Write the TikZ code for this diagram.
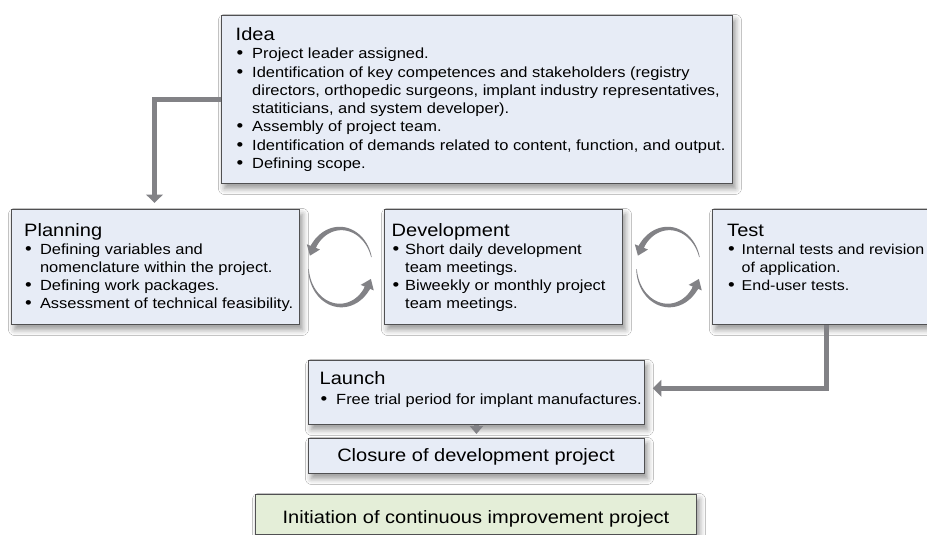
\documentclass[tikz,border=0pt]{standalone}
\usepackage{fontspec}
\setmainfont{Liberation Sans}[FakeStretch=1.12]
\usetikzlibrary{arrows.meta,shadows.blur}

\definecolor{boxblue}{HTML}{E7ECF6}
\definecolor{boxgreen}{HTML}{E4EED8}
\definecolor{edge}{HTML}{505052}
\definecolor{flow}{HTML}{828286}

% bullet lists: \hangw is the indent of the bullet text
\newlength\hangw
\newcommand\hd[1]{{\fontsize{17.9}{18}\selectfont #1}}
\newcommand\bul{\par\noindent\hangindent=\hangw\hangafter=1\relax
  \makebox[\hangw][l]{\hspace{1pt}{\fontsize{17}{18}\selectfont•}}}
\newcommand\blk[4][14.7]{\parbox[t]{560pt}{\fontsize{#1}{#3}\selectfont
  \setlength\hangw{#2}\parindent=0pt\parskip=0pt\raggedright #4}}

% tapered circular arrow: centre (#1,#2), body from angle #3 to #4, tip at #5
\newcommand\cyc[5]{%
  \fill[flow] plot[domain=#3:#4,samples=40,variable=\t]
    ({#1+(32+(0.3+2.5*(\t-#3)/(#4-#3)))*cos(\t)},{#2-(38.5+(0.3+2.5*(\t-#3)/(#4-#3)))*sin(\t)})
    -- plot[domain=#4:#3,samples=40,variable=\t]
    ({#1+(32-(0.3+2.5*(\t-#3)/(#4-#3)))*cos(\t)},{#2-(38.5-(0.3+2.5*(\t-#3)/(#4-#3)))*sin(\t)})
    -- cycle;
  \draw[flow,line width=5.4pt,-{Triangle[width=13.5pt,length=9.5pt]}]
    ({#1+32*cos(#4-4)},{#2-38.5*sin(#4-4)}) -- ({#1+32*cos(#5)},{#2-38.5*sin(#5)});
}

\tikzset{
  box/.style={draw=edge, line width=0.9pt, inner sep=0pt, anchor=north west,
    blur shadow={shadow xshift=3pt, shadow yshift=-5pt, shadow blur radius=6pt, shadow opacity=42}},
  txt/.style={inner sep=0pt, anchor=base west, text=black},
  ctxt/.style={inner sep=0pt, anchor=base, text=black, font=\fontsize{17.9}{18}\selectfont},
  conn/.style={draw=flow, line width=5.5pt, -{Triangle[width=16.5pt,length=8.5pt]}},
}

\begin{document}
\begin{tikzpicture}[x=1pt,y=-1pt]
\useasboundingbox[fill=white] (0,0) rectangle (927,535);

% boxes
\node[box, fill=boxblue, minimum width=511pt, minimum height=168pt] (idea) at (221,15) {};
\node[box, fill=boxblue, minimum width=288pt, minimum height=115pt] (planning) at (11,209) {};
\node[box, fill=boxblue, minimum width=238pt, minimum height=115pt] (development) at (384,209) {};
\node[box, fill=boxblue, minimum width=222pt, minimum height=115pt] (test) at (712,209) {};
\node[box, fill=boxblue, minimum width=336pt, minimum height=64pt] (launch) at (308,360) {};
\node[box, fill=boxblue, minimum width=336pt, minimum height=35pt] (closure) at (308,438) {};
\node[box, fill=boxgreen, minimum width=441pt, minimum height=40pt] (initiation) at (255,494) {};

% texts
\node[txt] (ideatxt) at (235.5,40.7) {\blk{16.5pt}{18.25pt}{\hd{Idea}%
  \bul Project leader assigned.%
  \bul Identification of key competences and stakeholders (registry\newline
    directors, orthopedic surgeons, implant industry representatives,\newline
    statiticians, and system developer).%
  \bul Assembly of project team.%
  \bul Identification of demands related to content, function, and output.%
  \bul Defining scope.}};

\node[txt] (planningtxt) at (24,236.7) {\blk{15.8pt}{17.9pt}{\hd{Planning}%
  \bul Defining variables and\newline nomenclature within the project.%
  \bul Defining work packages.%
  \bul Assessment of technical feasibility.}};

\node[txt] (developmenttxt) at (391.5,236.7) {\blk{13.5pt}{17.9pt}{\hd{Development}%
  \bul Short daily development\newline team meetings.%
  \bul Biweekly or monthly project\newline team meetings.}};

\node[txt] (testtxt) at (727,236.7) {\blk[14.3]{14.5pt}{18pt}{\hd{Test}%
  \bul Internal tests and revision\newline of application.%
  \bul End-user tests.}};

\node[txt] (launchtxt) at (319.5,384) {\blk{16.5pt}{20.3pt}{\hd{Launch}%
  \bul Free trial period for implant manufactures.}};

\node[ctxt] (closuretxt) at (476,461) {Closure of development project};
\node[ctxt] (initiationtxt) at (476,523.3) {Initiation of continuous improvement project};

% connectors
\coordinate (ip) at (154.5,99.5);
\coordinate (tl) at (826.5,388.3);
\draw[conn, shorten >=6pt] (idea.west |- ip) -| (planning.north -| ip);
\draw[conn, shorten >=8pt] (test.south -| tl) |- (launch.east |- tl);
\draw[conn, -{Triangle[width=13pt,length=8pt]}, line width=5pt, shorten >=4pt]
  ([yshift=-0.5pt]launch.south) -- (closure.north);

% iteration cycles between the phases
\cyc{340.5}{267}{15}{150}{163}
\cyc{340.5}{267}{183}{328}{342}
\cyc{668.5}{267}{15}{150}{163}
\cyc{668.5}{267}{183}{328}{342}
\end{tikzpicture}
\end{document}
